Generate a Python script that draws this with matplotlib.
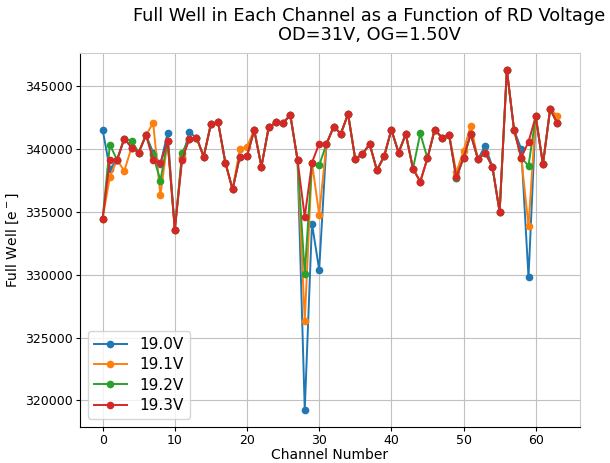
import matplotlib
matplotlib.use("Agg")
import matplotlib.pyplot as plt
import numpy as np

channels = list(range(64))

red = [334480, 339150, 339150, 340850, 340130, 339730, 341120, 339150, 338880, 340670,
       333600, 339150, 340800, 340930, 339410, 342000, 342130, 338930, 336800, 339410,
       339470, 341520, 338610, 341730, 342130, 342080, 342720, 339150, 334610, 338930,
       340450, 340400, 341790, 341230, 342800, 339200, 339630, 340400, 338320, 339440,
       341550, 339730, 341200, 338450, 337410, 339280, 341550, 340930, 341150, 337790,
       339330, 341200, 339200, 339730, 338590, 335010, 346320, 341520, 339330, 340590,
       342610, 338800, 343200, 342050]

blue = list(red)
orange = list(red)
green = list(red)

# deviations
blue[0] = 341550; orange[0] = 334480; green[0] = 334480
blue[1] = 338400; orange[1] = 337810; green[1] = 340350
orange[3] = 338270
green[4] = 340670
blue[7] = 339730; orange[7] = 342080; green[7] = 339500
blue[8] = 338800; orange[8] = 336320; green[8] = 337500
blue[9] = 341280
blue[11] = 339300; orange[11] = 339400; green[11] = 339730
blue[12] = 341330
orange[19] = 340000
orange[20] = 340210
blue[28] = 319250; orange[28] = 326340; green[28] = 330080
blue[29] = 334080
blue[30] = 330400; orange[30] = 334800; green[30] = 338720
green[44] = 341250
blue[49] = 337700; green[49] = 337700; orange[49] = 338150
orange[50] = 339870
orange[51] = 341870
blue[53] = 340270
blue[58] = 340000
blue[59] = 329790; orange[59] = 333870; green[59] = 338670
orange[63] = 342670

labels = ["19.0V", "19.1V", "19.2V", "19.3V"]
series = [blue, orange, green, red]
colors = ["#1f77b4", "#ff7f0e", "#2ca02c", "#d62728"]

fig = plt.figure(figsize=(6.10, 4.63), dpi=100)
ax = fig.add_axes([0.131, 0.078, 0.82, 0.808])
for vals, lab, c in zip(series, labels, colors):
    ax.plot(channels, vals, marker="o", markersize=4.5, linewidth=1.4, color=c, label=lab)

ax.set_yticks([320000, 325000, 330000, 335000, 340000, 345000])
ax.set_xticks([0, 10, 20, 30, 40, 50, 60])
ax.grid(True, color="#c0c0c0", linewidth=0.8)
ax.tick_params(labelsize=9, pad=2, length=3)
for s in ("top", "right"):
    ax.spines[s].set_color("#cccccc")
ax.set_xlabel("Channel Number", fontsize=10, labelpad=1)
ax.set_ylabel("Full Well [e$^-$]", fontsize=10, labelpad=3)
fig.text(0.605, 0.985, "Full Well in Each Channel as a Function of RD Voltage\nOD=31V, OG=1.50V",
         fontsize=12.8, ha="center", va="top", linespacing=1.1)
ax.legend(loc="lower left", fontsize=11, handlelength=2.2, labelspacing=0.35)

fig.savefig("out.png", dpi=100)
